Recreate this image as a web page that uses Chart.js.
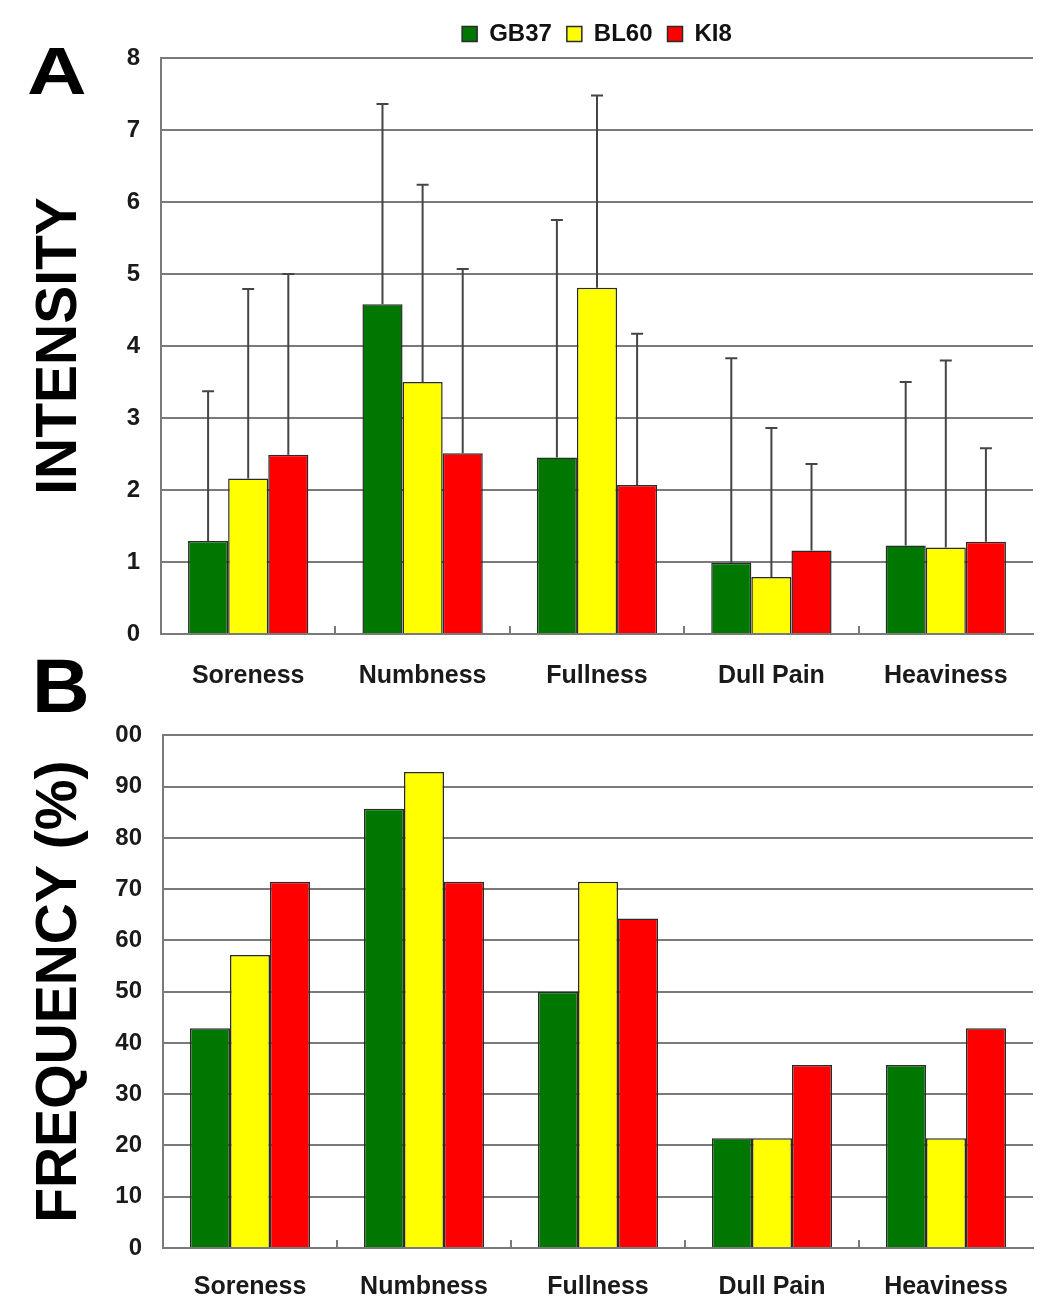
<!DOCTYPE html>
<html>
<head>
<meta charset="utf-8">
<script src="https://cdn.jsdelivr.net/npm/chart.js@4.4.1/dist/chart.umd.min.js"></script>
<style>
  html, body { margin: 0; padding: 0; background: #fff; }
  body { width: 1063px; height: 1309px; position: relative; overflow: hidden; }
  canvas { position: absolute; left: 0; }
  #cA { top: 0; }
  #cB { top: 700px; }
  .panel { position: absolute; font-family: Arial, "Liberation Sans", sans-serif; font-weight: bold; line-height: 1; color: #000; transform-origin: left top; }
</style>
</head>
<body>
<canvas id="cA" width="1063" height="700"></canvas>
<canvas id="cB" width="1063" height="609"></canvas>
<div class="panel" style="left:27px; top:38px; font-size:66px; transform: scaleX(1.25);">A</div>
<div class="panel" style="left:32px; top:648px; font-size:76px; transform: scaleX(1.05);">B</div>
<script>
// ---- data ----
const categories = ['Soreness', 'Numbness', 'Fullness', 'Dull Pain', 'Heaviness'];
const seriesNames = ['GB37', 'BL60', 'KI8'];

// Panel A: intensity means and standard deviations
const intensityGB37 = [1.29, 4.58, 2.45, 0.99, 1.23];
const intensityBL60 = [2.16, 3.50, 4.81, 0.79, 1.20];
const intensityKI8  = [2.49, 2.51, 2.07, 1.16, 1.28];
const sdGB37 = [2.08, 2.78, 3.30, 2.84, 2.27];
const sdBL60 = [2.63, 2.74, 2.67, 2.07, 2.60];
const sdKI8  = [2.51, 2.56, 2.10, 1.20, 1.30];

// Panel B: frequency (%)
const freqGB37 = [42.86, 85.71, 50.00, 21.43, 35.71];
const freqBL60 = [57.14, 92.86, 71.43, 21.43, 21.43];
const freqKI8  = [71.43, 71.43, 64.29, 35.71, 42.86];

// tick labels
const yTickLabelsA = ['0', '1', '2', '3', '4', '5', '6', '7', '8'];
const yTickLabelsB = ['0', '10', '20', '30', '40', '50', '60', '70', '80', '90', '00'];

// ---- styles ----
const FONT = 'Arial, "Liberation Sans", sans-serif';
const colors = ['#007700', '#ffff00', '#ff0000'];
const GRID = '#7a7a7a';

const errorBars = {
  id: 'errorBars',
  afterDatasetsDraw(chart) {
    const ctx = chart.ctx;
    const y = chart.scales.y;
    chart.data.datasets.forEach((ds, di) => {
      if (!ds.errors) return;
      const meta = chart.getDatasetMeta(di);
      meta.data.forEach((bar, i) => {
        const top = y.getPixelForValue(ds.data[i] + ds.errors[i]);
        ctx.save();
        ctx.strokeStyle = '#454545';
        ctx.lineWidth = 2;
        ctx.beginPath();
        ctx.moveTo(bar.x, bar.y);
        ctx.lineTo(bar.x, top);
        ctx.moveTo(bar.x - 6, top);
        ctx.lineTo(bar.x + 6, top);
        ctx.stroke();
        ctx.restore();
      });
    });
  }
};

const centerLegend = {
  id: 'centerLegend',
  afterLayout(chart) {
    const lg = chart.legend;
    if (!lg || !lg.options.display) return;
    lg.left = chart.chartArea.left;
    lg.right = chart.chartArea.right;
    lg.width = lg.right - lg.left;
    lg.top -= 2;
    lg.bottom -= 2;
  }
};

function makeDatasets(values, errs) {
  return seriesNames.map((name, k) => ({
    label: name,
    data: values[k],
    errors: errs ? errs[k] : null,
    backgroundColor: colors[k],
    borderColor: '#2a2a2a',
    borderWidth: 1.5,
    categoryPercentage: 0.69,
    barPercentage: 1.0
  }));
}

function makeOptions(cfg) {
  return {
    responsive: false,
    animation: false,
    devicePixelRatio: 1,
    layout: { padding: cfg.padding },
    plugins: {
      legend: {
        display: cfg.legend,
        position: 'top',
        labels: {
          boxWidth: 15, boxHeight: 15, padding: 15,
          color: '#111',
          font: { family: FONT, size: 24, weight: 'bold' }
        }
      },
      tooltip: { enabled: false }
    },
    scales: {
      x: {
        offset: true,
        grid: {
          display: true, drawOnChartArea: false, drawTicks: true,
          tickLength: -8, offset: true, lineWidth: 2,
          color: (c) => (c.index === undefined ? 'rgba(0,0,0,0)' : GRID)
        },
        border: { display: true, color: GRID, width: 2 },
        ticks: {
          autoSkip: false, maxRotation: 0, minRotation: 0,
          padding: cfg.xPad, color: '#1a1a1a',
          font: { family: FONT, size: 25, weight: 'bold' }
        },
        afterFit: (s) => { s.height = cfg.xHeight; }
      },
      y: {
        min: 0, max: cfg.max,
        grid: { display: true, drawTicks: false, color: GRID, lineWidth: 2 },
        border: { display: true, color: GRID, width: 2 },
        ticks: {
          stepSize: cfg.step, padding: 21, color: '#1a1a1a',
          font: { family: FONT, size: 24, weight: 'bold' },
          callback: (v) => cfg.tickLabels[Math.round(v / cfg.step)]
        },
        title: {
          display: true, text: cfg.title, color: '#000',
          font: { family: FONT, size: 57, weight: 'bold' },
          padding: { top: 26, bottom: 0 }
        },
        afterFit: (s) => { s.width = cfg.yWidth; }
      }
    }
  };
}

new Chart(document.getElementById('cA'), {
  type: 'bar',
  data: {
    labels: categories,
    datasets: makeDatasets([intensityGB37, intensityBL60, intensityKI8], [sdGB37, sdBL60, sdKI8])
  },
  options: makeOptions({
    padding: { top: 9, right: 30, left: 0, bottom: 0 },
    legend: true, max: 8, step: 1, tickLabels: yTickLabelsA,
    title: 'INTENSITY', yWidth: 161, xHeight: 66, xPad: 35
  }),
  plugins: [errorBars, centerLegend]
});

new Chart(document.getElementById('cB'), {
  type: 'bar',
  data: {
    labels: categories,
    datasets: makeDatasets([freqGB37, freqBL60, freqKI8], null)
  },
  options: makeOptions({
    padding: { top: 30, right: 30, left: 0, bottom: 0 },
    legend: false, max: 100, step: 10, tickLabels: yTickLabelsB,
    title: 'FREQUENCY (%)', yWidth: 163, xHeight: 61, xPad: 32
  })
});
</script>
</body>
</html>
